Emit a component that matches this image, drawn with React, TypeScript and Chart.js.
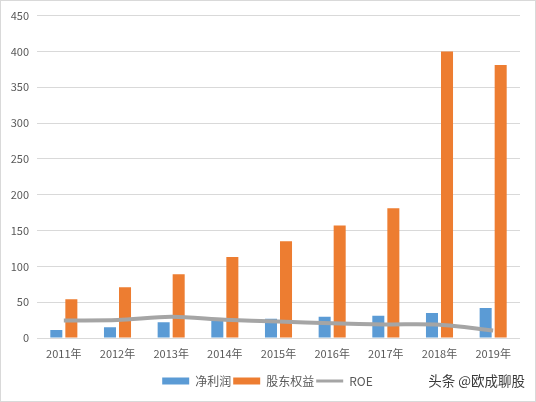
import React, { useEffect, useRef } from "react";
import { Chart, registerables } from "chart.js";

Chart.register(...registerables);

const categories = ["2011年", "2012年", "2013年", "2014年", "2015年", "2016年", "2017年", "2018年", "2019年"];
const netProfit = [11, 15, 22, 26, 27, 29.5, 31, 35, 42];
const equity = [54, 71, 89, 113, 135, 157, 181, 400, 381];
const roe = [24.5, 25, 29.5, 25.5, 23, 20.5, 19, 18.5, 10.5];
const yMin = 0;
const yMax = 450;
const yStep = 50;

const FONT = "'Noto Sans CJK SC', 'Noto Sans', sans-serif";

const legendShift = {
  id: "legendShift",
  afterLayout(chart: any) {
    if (chart.legend) {
      chart.legend.left += 7;
      chart.legend.right += 7;
    }
  },
};

export default function App() {
  const ref = useRef<HTMLCanvasElement>(null);

  useEffect(() => {
    document.body.style.margin = "0";
    const chart = new Chart(ref.current as HTMLCanvasElement, {
      type: "bar",
      data: {
        labels: categories,
        datasets: [
          {
            type: "bar",
            label: "净利润",
            data: netProfit,
            backgroundColor: "#5B9BD5",
            categoryPercentage: 0.56,
            barPercentage: 0.8,
            order: 2,
          },
          {
            type: "bar",
            label: "股东权益",
            data: equity,
            backgroundColor: "#ED7D31",
            categoryPercentage: 0.56,
            barPercentage: 0.8,
            order: 2,
          },
          {
            type: "line",
            label: "ROE",
            data: roe,
            borderColor: "#A5A5A5",
            backgroundColor: "#A5A5A5",
            borderWidth: 4,
            pointRadius: 0,
            tension: 0.3,
            order: 1,
          } as any,
        ],
      },
      plugins: [legendShift],
      options: {
        responsive: false,
        animation: false,
        layout: { padding: { left: 0, right: 15, top: 14, bottom: 4 } },
        plugins: {
          tooltip: { enabled: false },
          legend: {
            position: "bottom",
            labels: {
              usePointStyle: true,
              pointStyleWidth: 27,
              boxWidth: 27,
              boxHeight: 7,
              padding: 2,
              color: "#595959",
              font: { family: FONT, size: 12 },
              generateLabels: (c: any) => {
                const items = Chart.defaults.plugins.legend.labels.generateLabels(c);
                items.sort((a: any, b: any) => a.datasetIndex - b.datasetIndex);
                return items.map((it: any) => {
                  if (it.datasetIndex === 2) {
                    return { ...it, pointStyle: "line", lineWidth: 3, strokeStyle: "#A5A5A5", fillStyle: "#A5A5A5" };
                  }
                  return { ...it, pointStyle: "rect", lineWidth: 0 };
                });
              },
            },
          },
        },
        scales: {
          x: {
            grid: { display: false },
            border: { display: false },
            ticks: { color: "#595959", font: { family: FONT, size: 11 }, padding: 1 },
            afterFit: (s: any) => {
              s.height = 35;
            },
          },
          y: {
            min: yMin,
            max: yMax,
            grid: { color: "#D9D9D9", lineWidth: 1, drawTicks: false },
            border: { display: false },
            ticks: {
              stepSize: yStep,
              color: "#595959",
              font: { family: FONT, size: 11 },
              padding: 8,
            },
            afterFit: (s: any) => {
              s.width = 36;
            },
          },
        },
      },
    });
    return () => chart.destroy();
  }, []);

  return (
    <div
      style={{
        position: "relative",
        width: 536,
        height: 402,
        boxSizing: "border-box",
        border: "1px solid #D9D9D9",
        background: "#ffffff",
      }}
    >
      <canvas ref={ref} width={534} height={400} style={{ display: "block", width: 534, height: 400 }} />
      <div
        style={{
          position: "absolute",
          right: 10,
          top: 370,
          fontFamily: FONT,
          fontSize: 13.5,
          lineHeight: "18px",
          color: "#3a3a3a",
          whiteSpace: "nowrap",
        }}
      >
        头条 @欧成聊股
      </div>
    </div>
  );
}
